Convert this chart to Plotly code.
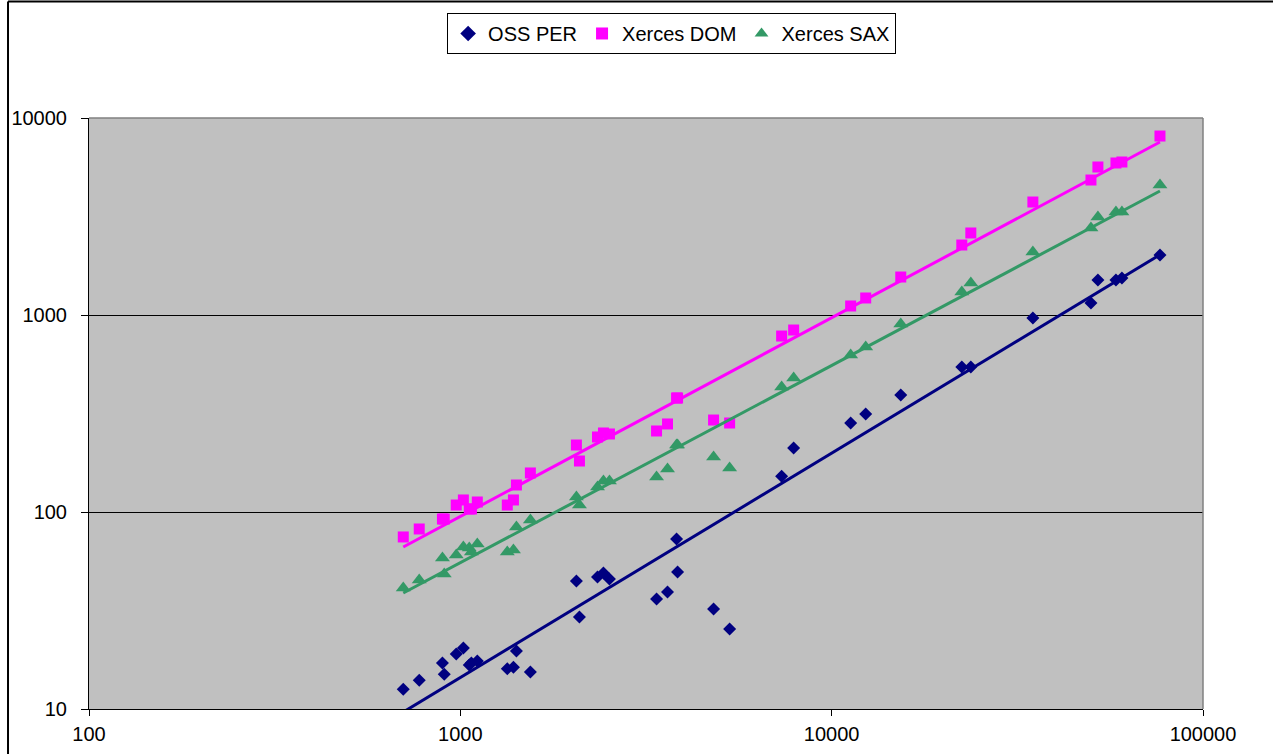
import plotly.graph_objects as go

# Document sizes (x) shared by all three series
doc_size = [702, 775, 895, 905, 975, 1019, 1057, 1071, 1111, 1338, 1390, 1416, 1544,
            2054, 2093, 2341, 2429, 2521, 3376, 3614, 3822, 3846, 4808, 5311,
            7333, 7900, 11250, 12350, 15350,
            22410, 23700, 34820, 49920, 52120, 58290, 60480, 76580]

oss_per = [12.6, 14.0, 17.1, 15.0, 19.0, 20.4, 16.7, 17.1, 17.5, 16.0, 16.3, 19.7, 15.4,
           44.6, 29.3, 46.8, 49.0, 45.7, 36.2, 39.3, 72.9, 49.6, 32.2, 25.5,
           152, 211, 283, 314, 393,
           545, 545, 966, 1151, 1506, 1506, 1541, 2016]

xerces_dom = [74.7, 82.0, 92.1, 92.1, 108.5, 115.1, 103.6, 103.6, 112.4, 108.5, 115.1, 137.1, 157.8,
              218.8, 181.5, 240.3, 251.8, 248.9, 257.8, 279.8, 379, 379, 293, 283,
              782, 839, 1111, 1220, 1559,
              2266, 2608, 3746, 4844, 5640, 5911, 5979, 8100]

xerces_sax = [41.1, 45.2, 58.4, 48.4, 60.5, 66.4, 65.7, 62.7, 68.8, 62.7, 64.1, 83.9, 91.1,
              119.2, 108.5, 134, 143.7, 143.7, 150.5, 165.3, 218.8, 218.8, 190.2, 167.2,
              431, 479, 627, 688, 900,
              1309, 1453, 2088, 2764, 3145, 3334, 3334, 4570]

# Trend line end points
trend_x = [702, 76580]
oss_trend = [9.65, 2022]
dom_trend = [66.4, 7551]
sax_trend = [38.8, 4260]

x_tickvals = [100, 1000, 10000, 100000]
x_ticktext = ["100", "1000", "10000", "100000"]
y_tickvals = [10, 100, 1000, 10000]
y_ticktext = ["10", "100", "1000", "10000"]

NAVY = "#000080"
MAGENTA = "#FF00FF"
GREEN = "#339966"
FONT = "Arial, Liberation Sans, sans-serif"

fig = go.Figure()

fig.add_trace(go.Scatter(x=doc_size, y=oss_per, mode="markers", name="OSS PER",
                         marker=dict(symbol="diamond", size=10, color=NAVY, line=dict(width=0))))
fig.add_trace(go.Scatter(x=doc_size, y=xerces_dom, mode="markers", name="Xerces DOM",
                         marker=dict(symbol="square", size=11, color=MAGENTA, line=dict(width=0))))
fig.add_trace(go.Scatter(x=doc_size, y=xerces_sax, mode="markers", name="Xerces SAX",
                         marker=dict(symbol="triangle-up", size=13, color=GREEN, line=dict(width=0))))

fig.add_trace(go.Scatter(x=trend_x, y=oss_trend, mode="lines", showlegend=False,
                         line=dict(color=NAVY, width=3), hoverinfo="skip"))
fig.add_trace(go.Scatter(x=trend_x, y=dom_trend, mode="lines", showlegend=False,
                         line=dict(color=MAGENTA, width=3), hoverinfo="skip"))
fig.add_trace(go.Scatter(x=trend_x, y=sax_trend, mode="lines", showlegend=False,
                         line=dict(color=GREEN, width=3), hoverinfo="skip"))

fig.update_layout(
    width=1273, height=754,
    margin=dict(l=89, r=70, t=118, b=45, autoexpand=False),
    paper_bgcolor="white",
    plot_bgcolor="#C0C0C0",
    font=dict(family=FONT, size=20, color="black"),
    showlegend=True,
    legend=dict(orientation="h", x=0.523, xanchor="center", y=1.1777, yanchor="top",
                bgcolor="white", bordercolor="black", borderwidth=1,
                font=dict(family=FONT, size=20, color="black"),
                itemwidth=30, itemsizing="constant", tracegroupgap=0),
    xaxis=dict(type="log", range=[2, 5], tickvals=x_tickvals, ticktext=x_ticktext,
               automargin=False,
               showgrid=False, zeroline=False, showline=True, linecolor="black", linewidth=1,
               ticks="outside", ticklen=6, tickcolor="black", tickwidth=1,
               ticklabelstandoff=1),
    yaxis=dict(type="log", range=[1, 4], tickvals=y_tickvals, ticktext=y_ticktext,
               automargin=False,
               showgrid=True, gridcolor="black", gridwidth=1, zeroline=False,
               showline=True, linecolor="black", linewidth=1,
               ticks="outside", ticklen=7, tickcolor="black", tickwidth=1,
               ticklabelstandoff=10),
    shapes=[
        # plot-area border (top and right, grey)
        dict(type="line", xref="paper", yref="paper", x0=0, x1=1, y0=1, y1=1,
             line=dict(color="#808080", width=1.5), layer="above"),
        dict(type="line", xref="paper", yref="paper", x0=1, x1=1, y0=0, y1=1,
             line=dict(color="#808080", width=1.5), layer="above"),
        # chart-area frame (left and top edges visible)
        dict(type="line", xref="paper", yref="paper", x0=-0.0727, x1=-0.0727, y0=-0.2, y1=1.197,
             line=dict(color="black", width=2)),
        dict(type="line", xref="paper", yref="paper", x0=-0.0727, x1=1.2, y0=1.197, y1=1.197,
             line=dict(color="black", width=2)),
    ],
)

fig.write_html("out.html",
               config={"displayModeBar": False},
               post_script="document.body.style.margin='0';document.body.style.overflow='hidden';")
